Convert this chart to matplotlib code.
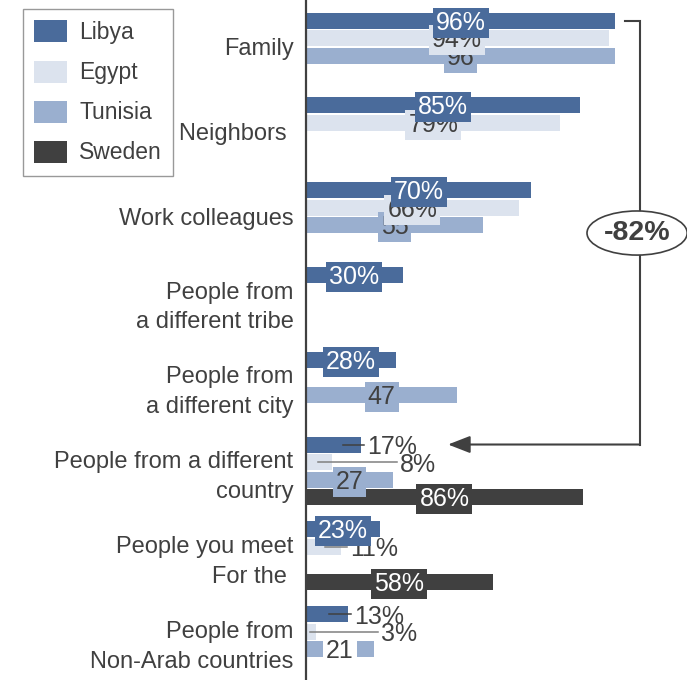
import numpy as np
import matplotlib.pyplot as plt
from matplotlib.patches import Ellipse, Patch

plt.rcParams['font.family'] = ['Liberation Sans', 'DejaVu Sans']

categories = ['Family', 'Neighbors ', 'Work colleagues',
              'People from\na different tribe', 'People from\na different city',
              'People from a different\ncountry', 'People you meet\nFor the ',
              'People from\nNon-Arab countries']
countries = ['Libya', 'Egypt', 'Tunisia', 'Sweden']
libya = [96, 85, 70, 30, 28, 17, 23, 13]
egypt = [94, 79, 66, None, None, 8, 11, 3]
tunisia = [96, None, 55, None, 47, 27, None, 21]
sweden = [None, None, None, None, None, 86, 58, None]
drop_label = '-82%'

suffix = ['%', '%', '', '%']
colors = ['#4a6b9b', '#dce3ee', '#9aafcf', '#404040']
text_colors = ['white', '#404040', '#404040', 'white']
leader_colors = ['#404040', '#808080', '#808080', '#404040']
dark = '#404040'

# short bars: label sits outside, joined by a leader line
# (group, series): (line start, label x) in % units
leaders = {(5, 0): (11.5, 19.0), (5, 1): (3.7, 29.2), (6, 1): (5.9, 13.7),
           (7, 0): (7.1, 14.9), (7, 1): (1.2, 23.3)}
white_box = {(7, 2)}

series = [libya, egypt, tunisia, sweden]
slot = 0.2064
bar_h = 0.189

fig = plt.figure(figsize=(6.87, 6.80), dpi=100)
ax = fig.add_axes([306 / 687, 0, 1 - 306 / 687, 1])

for j, vals in enumerate(series):
    for i, v in enumerate(vals):
        if v is None:
            continue
        y = i + j * slot
        ax.barh(y, v, height=bar_h, color=colors[j], zorder=2)
        txt = f'{v}{suffix[j]}'
        if (i, j) in leaders:
            x0, xt = leaders[(i, j)]
            ax.plot([x0, xt - 1.0], [y, y], color=leader_colors[j], lw=1.1, zorder=8)
            ax.text(xt, y + 0.03, txt, ha='left', va='center', fontsize=18,
                    color=dark, zorder=9)
        else:
            fc = 'white' if (i, j) in white_box else colors[j]
            ax.text(v / 2, y + 0.025, txt, ha='center', va='center', fontsize=18,
                    color=text_colors[j], zorder=10 - j,
                    bbox=dict(boxstyle='square,pad=0.12', fc=fc, ec='none'))

ax.set_xlim(0, 118.3)
ax.set_ylim(7.777, -0.242)
ax.set_xticks([])
ax.set_yticks([i + 1.5 * slot for i in range(len(categories))])
ax.set_yticklabels(categories, fontsize=17, color=dark)
for t in ax.get_yticklabels():
    t.set_linespacing(1.45)
ax.tick_params(axis='y', length=0, pad=9)
for s in ['top', 'right', 'bottom']:
    ax.spines[s].set_visible(False)
ax.spines['left'].set_color(dark)
ax.spines['left'].set_linewidth(1.6)

# bracket from family to different country
bx = 103.7
ax.plot([99.1, bx, bx], [0, 0, 5], color=dark, lw=1.5, clip_on=False,
        solid_joinstyle='miter', zorder=4)
ax.annotate('', xy=(44.1, 5), xytext=(bx, 5), annotation_clip=False,
            arrowprops=dict(arrowstyle='-|>,head_length=0.9,head_width=0.35',
                            mutation_scale=15, lw=1.5, color=dark,
                            shrinkA=0, shrinkB=0))
ax.add_patch(Ellipse((102.8, 2.506), 31.1, 0.52, fc='white', ec=dark, lw=1.2,
                     clip_on=False, zorder=5))
ax.text(102.9, 2.506, drop_label, ha='center', va='center', fontsize=20.5,
        fontweight='bold', color=dark, zorder=6)

handles = [Patch(fc=c, ec='none') for c in colors]
leg = fig.legend(handles, countries, loc='upper left',
                 bbox_to_anchor=(23 / 687, 1 - 9 / 680), fontsize=16.5,
                 frameon=True, fancybox=False, edgecolor='#808080',
                 handlelength=1.4, handleheight=1.1, labelspacing=0.71,
                 borderpad=0.5, handletextpad=0.55, borderaxespad=0)
leg.get_frame().set_linewidth(1.0)
for t in leg.get_texts():
    t.set_color(dark)

fig.savefig('out.png', dpi=100)
